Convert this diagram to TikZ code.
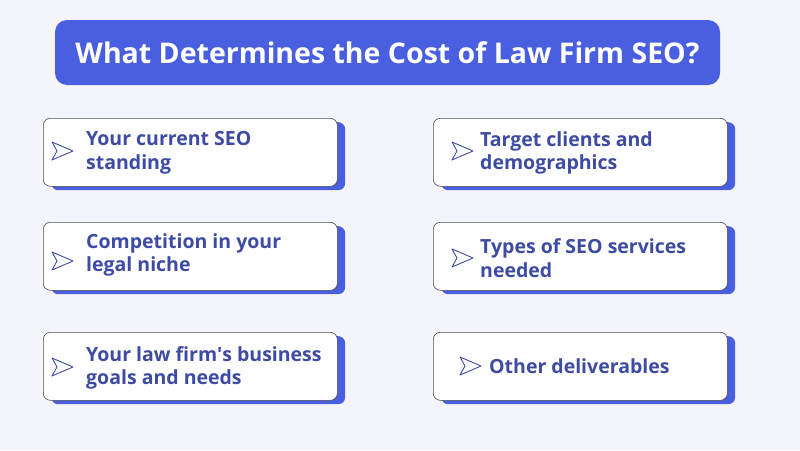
\documentclass[tikz,border=0pt]{standalone}
\usepackage{fontspec}
\setmainfont{Open Sans}
\usetikzlibrary{positioning, shapes}
\definecolor{bg}{HTML}{F4F5FB}
\definecolor{brand}{HTML}{4A5FE0}
\definecolor{ink}{HTML}{3D4BA3}
\begin{document}
\begin{tikzpicture}[x=1pt, y=-1pt]
    \tikzstyle{card} = [draw=black!70, fill=white, rounded corners=7pt, line width=0.6pt,
      minimum width=294pt, minimum height=68pt, anchor=north west]
    \tikzstyle{shade} = [fill=brand, rounded corners=7pt,
      minimum width=294pt, minimum height=68pt, anchor=north west]
    \tikzstyle{label} = [text=ink, font=\bfseries\fontsize{19.5}{23.5}\selectfont,
      align=left, anchor=west, inner sep=0pt]
    \tikzstyle{icon} = [draw=ink, line width=0.9pt, line join=round]
    \fill[bg] (0, 0) rectangle (800, 450);
    \node (title) [fill=brand, rounded corners=12pt, minimum width=665pt, minimum height=65pt,
      text=white, font=\bfseries\fontsize{28.5}{32}\selectfont] at (387.5, 52.5)
      {What Determines the Cost of Law Firm SEO?};
    % left column
    \node (s1) [shade] at (51, 122) {};
    \node (c1) [card] at (43, 118) {};
    \node (t1) [label] at (86, 153) {Your current SEO\\standing};
    \node (s2) [shade] at (51, 226) {};
    \node (c2) [card] at (43, 222) {};
    \node (t2) [label] at (86, 255) {Competition in your\\legal niche};
    \node (s3) [shade] at (51, 336) {};
    \node (c3) [card] at (43, 332) {};
    \node (t3) [label] at (86, 368) {Your law firm\textquotesingle s business\\goals and needs};
    % right column
    \node (s4) [shade] at (441, 122) {};
    \node (c4) [card] at (433, 118) {};
    \node (t4) [label] at (480, 153) {Target clients and\\demographics};
    \node (s5) [shade] at (441, 226) {};
    \node (c5) [card] at (433, 222) {};
    \node (t5) [label] at (480, 258) {Types of SEO services\\needed};
    \node (s6) [shade] at (441, 336) {};
    \node (c6) [card] at (433, 332) {};
    \node (t6) [label] at (489, 366) {Other deliverables};
    % send icons
    \foreach \x/\y in {52/151, 52/261, 52/367, 452/151, 452/258, 460/366} {
      \draw [icon] (\x, \y-9) -- (\x+21, \y) -- (\x, \y+9) -- (\x+5, \y) -- cycle;
    }
  \end{tikzpicture}
\end{document}
